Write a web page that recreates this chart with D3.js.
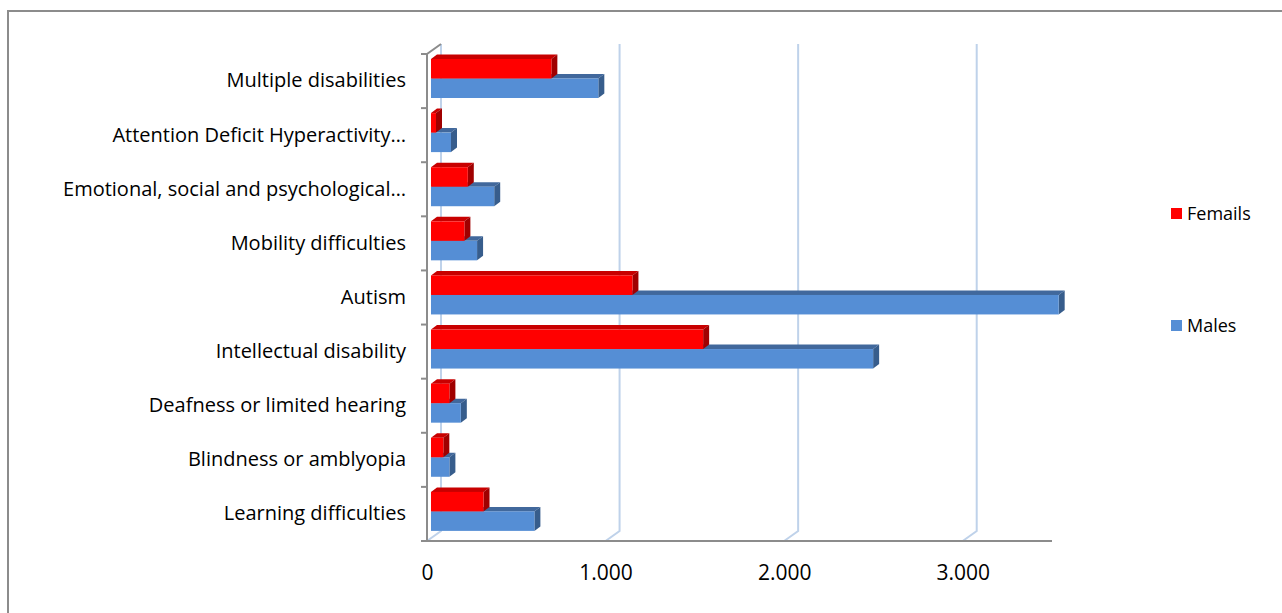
<!DOCTYPE html>
<html>
<head>
<meta charset="utf-8">
<script src="https://cdn.jsdelivr.net/npm/d3@7"></script>
<style>
  html, body { margin: 0; padding: 0; background: #fff; }
  svg { display: block; font-family: "Open Sans", Lato, sans-serif; }
</style>
</head>
<body>
<svg id="grafica"></svg>
<script>
// datos
const categories = [
  "Multiple disabilities",
  "Attention Deficit Hyperactivity…",
  "Emotional, social and psychological…",
  "Mobility difficulties ",
  "Autism ",
  "Intellectual disability",
  "Deafness or limited hearing",
  "Blindness or amblyopia",
  "Learning difficulties"
];
const femails = [674, 28, 206, 187, 1128, 1524, 103, 69, 294];
const males = [937, 112, 354, 258, 3515, 2476, 167, 103, 579];
const xTicks = [0, 1000, 2000, 3000];
const seriesNames = ["Femails", "Males"];

function DOMCargado() {

  const width = 1282;
  const height = 613;

  // profundidad de la pared y de las barras (efecto 3D)
  const wallDx = 14, wallDy = 10;
  const barDx = 6, barDy = 4.5;
  const barShift = 4;

  const container = d3.select("svg#grafica")
    .attr("width", width)
    .attr("height", height);

  // marco
  container.append("rect")
    .attr("x", 8).attr("y", 11)
    .attr("width", 1300).attr("height", 640)
    .attr("fill", "none")
    .attr("stroke", "#8c8c8c")
    .attr("stroke-width", 2);

  const x = d3.scaleLinear().domain([0, 3500]).range([427, 1052]);
  const y = d3.scaleBand().domain(categories).range([54, 541]);

  const yTop = y.range()[0], yBottom = y.range()[1];

  // lineas de rejilla en la pared del fondo
  const grid = container.append("g");
  xTicks.forEach(t => {
    grid.append("path")
      .attr("d", `M ${x(t) + wallDx},${yTop - wallDy} L ${x(t) + wallDx},${yBottom - wallDy} L ${x(t)},${yBottom}`)
      .attr("fill", "none")
      .attr("stroke", "#bfd2ea")
      .attr("stroke-width", 2);
  });

  // eje vertical y suelo
  container.append("path")
    .attr("d", `M ${x(0) + wallDx},${yTop - wallDy} L ${x(0)},${yTop} L ${x(0)},${yBottom} L ${x(3500)},${yBottom}`)
    .attr("fill", "none")
    .attr("stroke", "#8c8c8c")
    .attr("stroke-width", 2);

  // marcas en los limites de categoria
  const limites = categories.map(c => y(c)).concat([yBottom]);
  container.append("g").selectAll("line")
    .data(limites)
    .join("line")
    .attr("x1", x(0) - 6).attr("x2", x(0))
    .attr("y1", d => d).attr("y2", d => d)
    .attr("stroke", "#8c8c8c")
    .attr("stroke-width", 2);

  // barras 3D
  function barra(g, v, yb, hb, colores) {
    const x0 = x(0) + barShift, x1 = x(v) + barShift;
    g.append("path")
      .attr("d", `M ${x0},${yb} L ${x0 + barDx},${yb - barDy} L ${x1 + barDx},${yb - barDy} L ${x1},${yb} Z`)
      .attr("fill", colores.top);
    g.append("path")
      .attr("d", `M ${x1},${yb} L ${x1 + barDx},${yb - barDy} L ${x1 + barDx},${yb + hb - barDy} L ${x1},${yb + hb} Z`)
      .attr("fill", colores.side);
    g.append("rect")
      .attr("x", x0).attr("y", yb)
      .attr("width", x1 - x0).attr("height", hb)
      .attr("fill", colores.front);
  }

  const rojo = { front: "#ff0000", top: "#c80000", side: "#a00000" };
  const azul = { front: "#558ed5", top: "#41689c", side: "#375d8c" };

  const bars = container.append("g");
  categories.forEach((c, i) => {
    const y0 = y(c);
    const g = bars.append("g");
    barra(g, males[i], y0 + 24.5, 19.5, azul);
    barra(g, femails[i], y0 + 5, 19.5, rojo);
  });

  // etiquetas de categoria
  container.append("g")
    .attr("transform", `translate(${x(0)},0)`)
    .call(d3.axisLeft(y).tickSize(0).tickPadding(21))
    .call(g => g.select(".domain").remove())
    .selectAll("text")
    .attr("font-size", 20)
    .attr("font-family", "'Open Sans', sans-serif")
    .attr("fill", "#000");

  // etiquetas eje x con punto de miles
  const locale = d3.formatLocale({ decimal: ",", thousands: ".", grouping: [3], currency: ["", ""] });
  container.append("g")
    .attr("transform", `translate(0,${yBottom + 21})`)
    .call(d3.axisBottom(x).tickValues(xTicks).tickSize(0).tickFormat(locale.format(",")))
    .call(g => g.select(".domain").remove())
    .selectAll("text")
    .attr("font-size", 21)
    .attr("font-family", "'Open Sans', sans-serif")
    .attr("fill", "#000");

  // leyenda
  const leyenda = container.append("g");
  const colLeyenda = ["#ff0000", "#558ed5"];
  const yLeyenda = [214, 326];
  seriesNames.forEach((n, i) => {
    leyenda.append("rect")
      .attr("x", 1171).attr("y", yLeyenda[i] - 6)
      .attr("width", 11).attr("height", 11)
      .attr("fill", colLeyenda[i]);
    leyenda.append("text")
      .attr("x", 1187).attr("y", yLeyenda[i])
      .attr("dy", "0.35em")
      .attr("font-size", 18)
      .attr("fill", "#000")
      .text(n);
  });
}
document.addEventListener("DOMContentLoaded", DOMCargado);
</script>
</body>
</html>
